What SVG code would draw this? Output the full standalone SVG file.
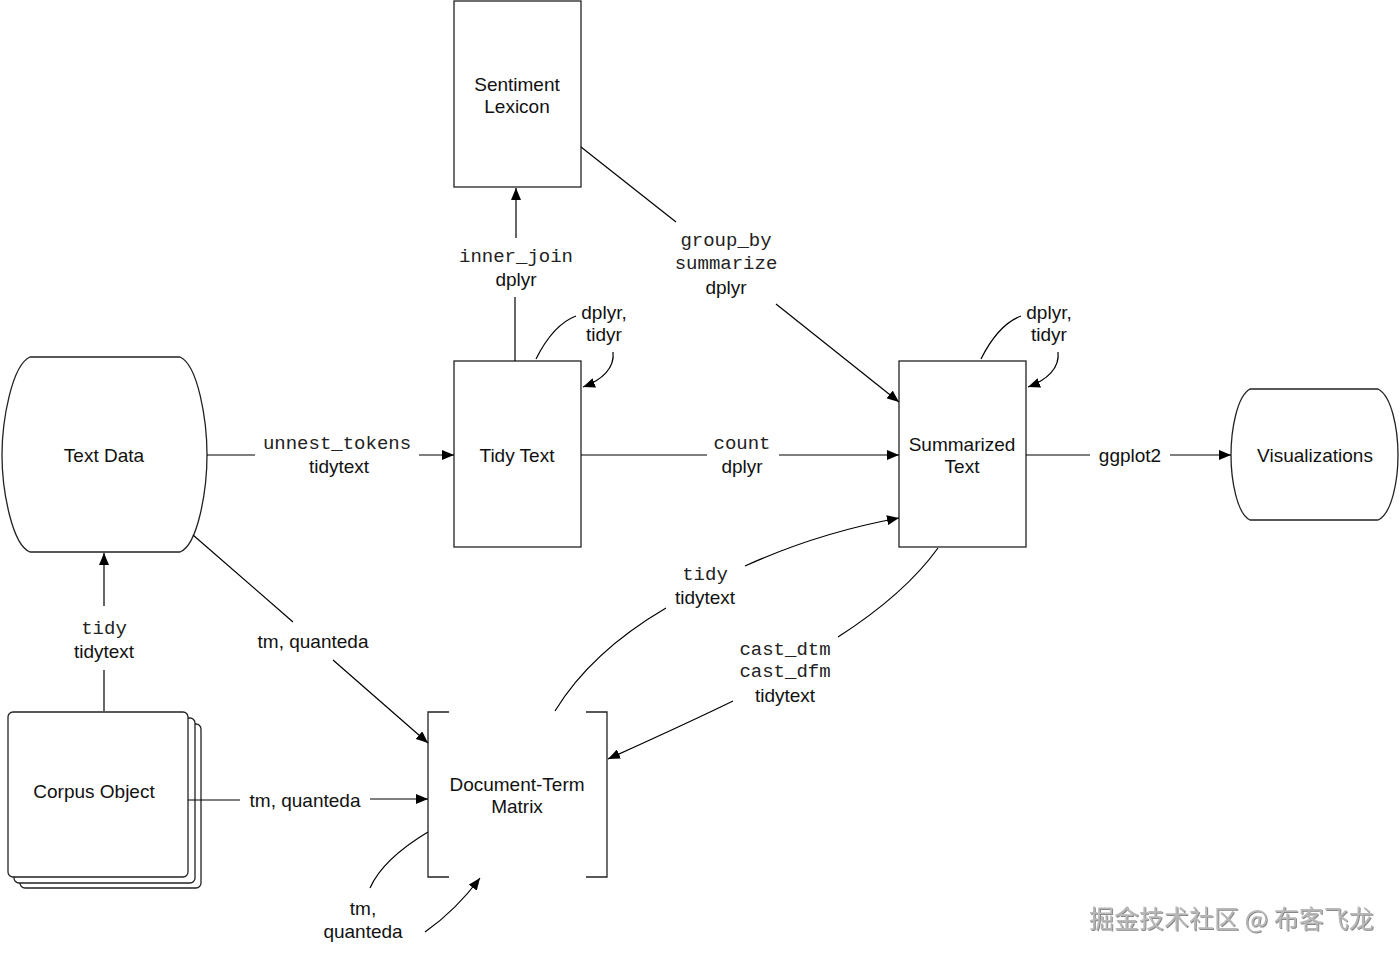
<svg xmlns="http://www.w3.org/2000/svg" width="1400" height="957" viewBox="0 0 1400 957">
<defs>
<marker id="arr" viewBox="0 0 12 10" refX="12" refY="5" markerWidth="12" markerHeight="10" markerUnits="userSpaceOnUse" orient="auto">
<path d="M0,0 L12,5 L0,10 Z" fill="#000"/>
</marker>
<filter id="sh" x="-5%" y="-30%" width="110%" height="160%">
<feDropShadow dx="1" dy="1" stdDeviation="0.6" flood-color="#555" flood-opacity="0.7"/>
</filter>
</defs>
<style>
.box{fill:#fff;stroke:#222;stroke-width:1.3}
.ln{fill:none;stroke:#000;stroke-width:1.2}
.arr{fill:none;stroke:#000;stroke-width:1.2;marker-end:url(#arr)}
.s{font-family:"Liberation Sans",Arial,Helvetica,sans-serif;font-size:19px;fill:#111;text-anchor:middle;dominant-baseline:central}
.m{font-family:"Liberation Mono","Courier New",monospace;font-size:19px;fill:#222;text-anchor:middle;dominant-baseline:central}
.wm{font-family:"Noto Sans CJK SC","Liberation Sans",sans-serif;font-size:25px;fill:#b8b8b8;dominant-baseline:central}
</style>
<rect width="1400" height="957" fill="#fff"/>

<g id="text-data">
  <path class="box" d="M30,357 H180 C198,365 207,420 207,455 C207,490 198,545 180,552 H30 C12,545 2,490 2,455 C2,420 12,365 30,357 Z"/>
  <text class="s" x="104" y="455">Text Data</text>
</g>

<g id="sentiment-lexicon">
  <rect class="box" x="454" y="1" width="127" height="186"/>
  <text class="s" x="517" y="84">Sentiment</text>
  <text class="s" x="517" y="106">Lexicon</text>
</g>

<g id="tidy-text">
  <rect class="box" x="454" y="361" width="127" height="186"/>
  <text class="s" x="517" y="455">Tidy Text</text>
</g>

<g id="summarized-text">
  <rect class="box" x="899" y="361" width="127" height="186"/>
  <text class="s" x="962" y="444">Summarized</text>
  <text class="s" x="962" y="466">Text</text>
</g>

<g id="visualizations">
  <path class="box" d="M1250,389 H1378 C1392,396 1398,430 1398,455 C1398,480 1392,514 1378,520 H1250 C1237,514 1231,480 1231,455 C1231,430 1237,396 1250,389 Z"/>
  <text class="s" x="1315" y="455">Visualizations</text>
</g>

<g id="corpus-object">
  <rect class="box" x="20" y="724" width="181" height="164" rx="5"/>
  <rect class="box" x="14" y="718" width="181" height="165" rx="5"/>
  <rect class="box" x="8" y="712" width="180" height="165" rx="5"/>
  <text class="s" x="94" y="791">Corpus Object</text>
</g>

<g id="document-term-matrix">
  <path class="ln" style="stroke:#222;stroke-width:1.3" d="M449,712 H428 V877 H449"/>
  <path class="ln" style="stroke:#222;stroke-width:1.3" d="M586,712 H607 V877 H586"/>
  <text class="s" x="517" y="784">Document-Term</text>
  <text class="s" x="517" y="806">Matrix</text>
</g>

<g id="connectors">
  <!-- unnest_tokens -->
  <line class="ln" x1="207" y1="455" x2="255" y2="455"/>
  <line class="arr" x1="419" y1="455" x2="454" y2="455"/>
  <text class="m" x="337" y="444">unnest_tokens</text>
  <text class="s" x="339" y="466">tidytext</text>
  <!-- inner_join -->
  <line class="ln" x1="515" y1="361" x2="515" y2="297"/>
  <line class="arr" x1="516" y1="238" x2="516" y2="188"/>
  <text class="m" x="516" y="257">inner_join</text>
  <text class="s" x="516" y="279">dplyr</text>
  <!-- tidy text self loop -->
  <path class="ln" d="M536,359 C547,337 560,322 576,316"/>
  <path class="arr" d="M613,352 C615,368 602,380 583,387"/>
  <text class="s" x="604" y="312">dplyr,</text>
  <text class="s" x="604" y="334">tidyr</text>
  <!-- summarized self loop -->
  <path class="ln" d="M981,359 C992,337 1005,322 1021,316"/>
  <path class="arr" d="M1058,352 C1060,368 1047,380 1028,387"/>
  <text class="s" x="1049" y="312">dplyr,</text>
  <text class="s" x="1049" y="334">tidyr</text>
  <!-- group_by summarize -->
  <line class="ln" x1="581" y1="147" x2="676" y2="222"/>
  <line class="arr" x1="776" y1="304" x2="899" y2="402"/>
  <text class="m" x="726" y="241">group_by</text>
  <text class="m" x="726" y="264">summarize</text>
  <text class="s" x="726" y="287">dplyr</text>
  <!-- count -->
  <line class="ln" x1="581" y1="455" x2="707" y2="455"/>
  <line class="arr" x1="779" y1="455" x2="899" y2="455"/>
  <text class="m" x="742" y="444">count</text>
  <text class="s" x="742" y="466">dplyr</text>
  <!-- ggplot2 -->
  <line class="ln" x1="1026" y1="455" x2="1090" y2="455"/>
  <line class="arr" x1="1170" y1="455" x2="1231" y2="455"/>
  <text class="s" x="1130" y="455">ggplot2</text>
  <!-- tidy (corpus -> text data) -->
  <line class="ln" x1="104" y1="711" x2="104" y2="670"/>
  <line class="arr" x1="104" y1="606" x2="104" y2="553"/>
  <text class="m" x="104" y="629">tidy</text>
  <text class="s" x="104" y="651">tidytext</text>
  <!-- text data -> DTM -->
  <line class="ln" x1="193" y1="535" x2="293" y2="622"/>
  <line class="arr" x1="333" y1="660" x2="428" y2="743"/>
  <text class="s" x="313" y="641">tm, quanteda</text>
  <!-- corpus -> DTM -->
  <line class="ln" x1="188" y1="800" x2="240" y2="800"/>
  <line class="arr" x1="370" y1="799" x2="428" y2="799"/>
  <text class="s" x="305" y="800">tm, quanteda</text>
  <!-- DTM self loop -->
  <path class="ln" d="M428,832 C398,850 378,870 370,888"/>
  <path class="arr" d="M425,932 C445,918 465,898 480,878"/>
  <text class="s" x="363" y="908">tm,</text>
  <text class="s" x="363" y="931">quanteda</text>
  <!-- tidy (DTM -> summarized) -->
  <path class="ln" d="M555,711 C580,670 620,635 666,608"/>
  <path class="arr" d="M745,566 C800,541 850,527 899,518"/>
  <text class="m" x="705" y="575">tidy</text>
  <text class="s" x="705" y="597">tidytext</text>
  <!-- cast_dtm -->
  <path class="ln" d="M938,548 C915,580 880,610 838,637"/>
  <path class="arr" d="M733,701 C690,722 650,740 608,759"/>
  <text class="m" x="785" y="650">cast_dtm</text>
  <text class="m" x="785" y="672">cast_dfm</text>
  <text class="s" x="785" y="695">tidytext</text>
</g>

<g id="watermark">
  <text class="wm" x="1089" y="917" filter="url(#sh)">掘金技术社区 @ 布客飞龙</text>
</g>
</svg>
